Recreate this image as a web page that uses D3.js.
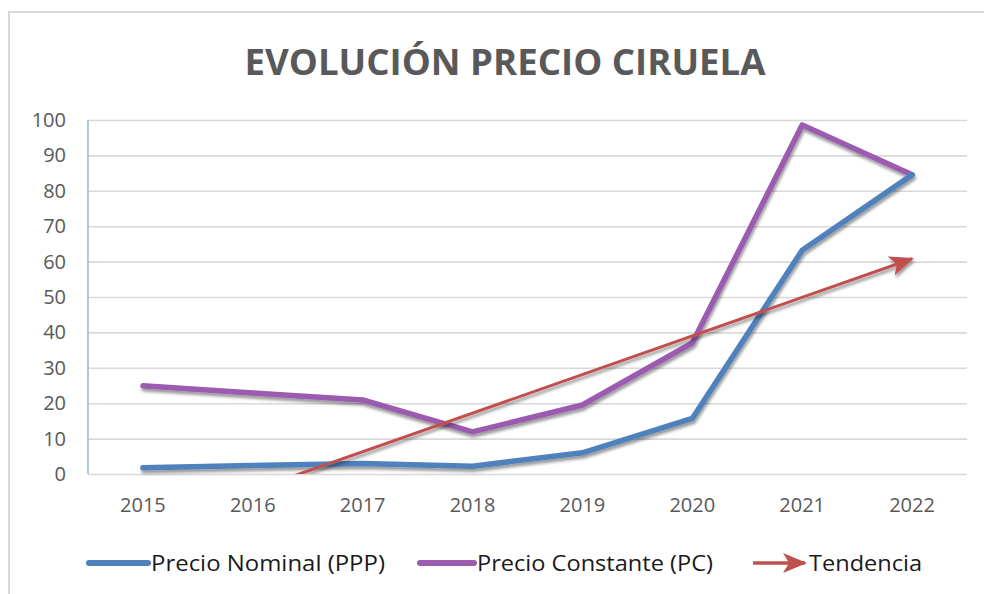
<!DOCTYPE html>
<html>
<head>
<meta charset="utf-8">
<script src="https://cdn.jsdelivr.net/npm/d3@7"></script>
<style>
  body { margin: 0; background: #fff; }
  #chart { width: 984px; height: 594px; }
</style>
</head>
<body>
<div id="chart"></div>
<script>
const years = ["2015", "2016", "2017", "2018", "2019", "2020", "2021", "2022"]
const nominal = [1.8, 2.4, 3.0, 2.2, 6.0, 15.7, 63.2, 84.5]
const constante = [24.9, 22.9, 20.9, 11.9, 19.5, 37.0, 98.6, 84.5]
// trend line (value at first and last year)
const trendYears = ["2015", "2022"]
const trendValues = [-15.5, 60.8]
const yTicks = [0, 10, 20, 30, 40, 50, 60, 70, 80, 90, 100]
const legendLabels = ["Precio Nominal (PPP)", "Precio Constante (PC)", "Tendencia"]

const width = 984
const height = 594
const margin = {left: 88, right: 17, top: 120, bottom: 120}
const font = "'Open Sans', 'Noto Sans', sans-serif"
const blue = "#4f81bd"
const purple = "#9b5cb0"
const red = "#c0504d"

const svg = d3.select("#chart")
  .append("svg")
  .attr("width", width)
  .attr("height", height)
  .style("font-family", font)

const defs = svg.append("defs")
defs.append("filter")
  .attr("id", "shadow")
  .attr("x", "-10%").attr("y", "-10%")
  .attr("width", "120%").attr("height", "130%")
  .append("feDropShadow")
  .attr("dx", 1).attr("dy", 3)
  .attr("stdDeviation", 1.8)
  .attr("flood-color", "#000")
  .attr("flood-opacity", 0.4)

defs.append("marker")
  .attr("id", "arrow")
  .attr("viewBox", "0 0 24 20")
  .attr("refX", 22).attr("refY", 10)
  .attr("markerWidth", 24).attr("markerHeight", 20)
  .attr("markerUnits", "userSpaceOnUse")
  .attr("orient", "auto")
  .append("path")
  .attr("d", "M0,0 L24,10 L0,20 L6,10 Z")
  .attr("fill", red)

defs.append("clipPath")
  .attr("id", "plotclip")
  .append("rect")
  .attr("x", margin.left).attr("y", margin.top - 10)
  .attr("width", width - margin.left - margin.right)
  .attr("height", height - margin.top - margin.bottom + 10)

// chart frame
svg.append("rect")
  .attr("x", 9).attr("y", 12)
  .attr("width", 990).attr("height", 600)
  .attr("fill", "none")
  .attr("stroke", "#d9d9d9")
  .attr("stroke-width", 2)

svg.append("text")
  .attr("x", 505).attr("y", 75)
  .attr("text-anchor", "middle")
  .attr("font-size", 36)
  .attr("font-weight", "bold")
  .attr("fill", "#595959")
  .attr("textLength", 521)
  .attr("lengthAdjust", "spacingAndGlyphs")
  .text("EVOLUCIÓN PRECIO CIRUELA")

const x = d3.scaleBand()
  .domain(years)
  .range([margin.left, width - margin.right])

const xc = d => x(d) + x.bandwidth() / 2

const y = d3.scaleLinear()
  .domain([0, 100])
  .range([height - margin.bottom, margin.top])

// gridlines
svg.append("g")
  .attr("transform", `translate(${margin.left},0)`)
  .call(d3.axisLeft(y).tickValues(yTicks).tickSize(-(width - margin.left - margin.right)).tickFormat(""))
  .call(g => g.select(".domain").remove())
  .call(g => g.selectAll("line").attr("stroke", "#d9d9d9").attr("stroke-width", 1.6))

// y axis line
svg.append("line")
  .attr("x1", margin.left).attr("x2", margin.left)
  .attr("y1", y(100)).attr("y2", y(0))
  .attr("stroke", "#9dbbe0")
  .attr("stroke-width", 1.6)

// y labels
svg.append("g")
  .attr("transform", `translate(${margin.left},0)`)
  .call(d3.axisLeft(y).tickValues(yTicks).tickSize(0).tickPadding(22))
  .call(g => g.select(".domain").remove())
  .call(g => g.selectAll("text")
    .attr("font-family", font)
    .attr("font-size", 20)
    .attr("fill", "#595959"))

// x labels
svg.append("g")
  .attr("transform", `translate(0,${y(0)})`)
  .call(d3.axisBottom(x).tickSize(0).tickPadding(24))
  .call(g => g.select(".domain").remove())
  .call(g => g.selectAll("text")
    .attr("font-family", font)
    .attr("font-size", 20)
    .attr("fill", "#595959"))

const line = d3.line()
  .x((d, i) => xc(years[i]))
  .y(d => y(d))

const plot = svg.append("g").attr("filter", "url(#shadow)")

plot.append("path")
  .datum(constante)
  .attr("d", line)
  .attr("fill", "none")
  .attr("stroke", purple)
  .attr("stroke-width", 5.5)
  .attr("stroke-linejoin", "round")
  .attr("stroke-linecap", "round")

plot.append("path")
  .datum(nominal)
  .attr("d", line)
  .attr("fill", "none")
  .attr("stroke", blue)
  .attr("stroke-width", 5.5)
  .attr("stroke-linejoin", "round")
  .attr("stroke-linecap", "round")

// trend line, clipped at the bottom of the plot
const trendLine = d3.line()
  .x((d, i) => xc(trendYears[i]))
  .y(d => y(d))

svg.append("g")
  .attr("clip-path", "url(#plotclip)")
  .append("path")
  .datum(trendValues)
  .attr("d", trendLine)
  .attr("fill", "none")
  .attr("stroke", red)
  .attr("stroke-width", 3)
  .attr("filter", "url(#shadow)")
  .attr("marker-end", "url(#arrow)")

// legend
const legendY = 563
const legendItems = [
  {label: legendLabels[0], color: blue, x1: 89, x2: 148, tx: 151, w: 234},
  {label: legendLabels[1], color: purple, x1: 420, x2: 474, tx: 477, w: 236},
  {label: legendLabels[2], color: red, x1: 753, x2: 805, tx: 809, w: 113}
]

const legend = svg.append("g")
legendItems.forEach((d, i) => {
  if (i < 2) {
    legend.append("line")
      .attr("x1", d.x1).attr("x2", d.x2)
      .attr("y1", legendY).attr("y2", legendY)
      .attr("stroke", d.color)
      .attr("stroke-width", 6)
      .attr("stroke-linecap", "round")
  } else {
    legend.append("line")
      .attr("x1", d.x1).attr("x2", d.x2)
      .attr("y1", legendY).attr("y2", legendY)
      .attr("stroke", d.color)
      .attr("stroke-width", 3.5)
      .attr("marker-end", "url(#arrow)")
  }
  legend.append("text")
    .attr("x", d.tx).attr("y", legendY)
    .attr("dy", "0.35em")
    .attr("font-size", 22)
    .attr("fill", "#1a1a1a")
    .attr("textLength", d.w)
    .attr("lengthAdjust", "spacingAndGlyphs")
    .text(d.label)
})
</script>
</body>
</html>
